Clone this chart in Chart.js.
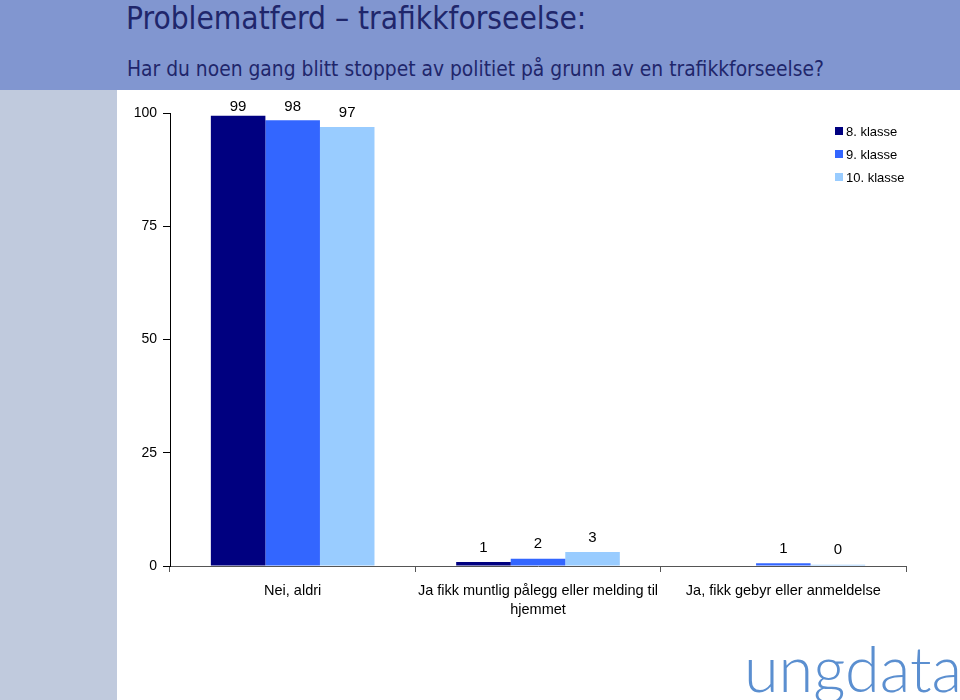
<!DOCTYPE html>
<html>

<head>
    <meta charset="utf-8">
    <title>Problematferd – trafikkforseelse</title>
    <script src="https://cdn.jsdelivr.net/npm/chart.js@4.4.1/dist/chart.umd.min.js"></script>
    <style>
        body { margin: 0; width: 960px; height: 700px; position: relative; overflow: hidden; background: #fff; }
        #header { position: absolute; left: 0; top: 0; width: 960px; height: 90px; background: #8196d0; }
        #side { position: absolute; left: 0; top: 90px; width: 117px; height: 610px; background: #c0cadd; }
        #title { position: absolute; left: 126px; top: -2px; line-height: 40px; font-family: "DejaVu Sans Condensed", "DejaVu Sans"; font-size: 31.4px; color: #1f266b; white-space: nowrap; }
        #sub { position: absolute; left: 127px; top: 56px; line-height: 26px; font-family: "DejaVu Sans Condensed", "DejaVu Sans"; font-size: 20.8px; color: #1f266b; white-space: nowrap; }
        #logo { position: absolute; left: 744px; top: 636px; line-height: 64px; font-family: Lato, "Open Sans"; font-weight: 300; font-size: 63px; color: #5b8fd0; letter-spacing: 0px; }
        #wrap { position: absolute; left: 117px; top: 90px; width: 843px; height: 610px; }
    </style>
</head>

<body>
    <div id="header"></div>
    <div id="side"></div>
    <div id="title">Problematferd – trafikkforseelse:</div>
    <div id="sub">Har du noen gang blitt stoppet av politiet på grunn av en trafikkforseelse?</div>
    <div id="logo">ungdata</div>
    <div id="wrap"><canvas id="myChart" width="843" height="610"></canvas></div>
    <script>
        const categories = ['Nei, aldri', ['Ja fikk muntlig pålegg eller melding til', 'hjemmet'], 'Ja, fikk gebyr eller anmeldelse'];
        const seriesNames = ['8. klasse', '9. klasse', '10. klasse'];
        const klasse8 = [99.4, 0.9, null];
        const klasse9 = [98.4, 1.6, 0.6];
        const klasse10 = [96.9, 3.1, 0.3];
        const colors = ['#000080', '#3366ff', '#99ccff'];
        const yTicks = [0, 25, 50, 75, 100];

        const font = 'Arial, "Liberation Sans"';

        // value labels over the bars
        const barLabels = {
            id: 'barLabels',
            afterDatasetsDraw(chart) {
                const ctx = chart.ctx;
                ctx.save();
                ctx.font = '15px ' + font;
                ctx.fillStyle = '#000';
                ctx.textAlign = 'center';
                ctx.textBaseline = 'bottom';
                chart.data.datasets.forEach((ds, i) => {
                    chart.getDatasetMeta(i).data.forEach((bar, j) => {
                        const v = ds.data[j];
                        if (v === null) return;
                        const y = Math.max(bar.y - 7, chart.chartArea.top + 1);
                        ctx.fillText(Math.round(v), bar.x, y);
                    });
                });
                ctx.restore();
            }
        };

        // legend inside the plot, top right
        const boxLegend = {
            id: 'boxLegend',
            afterDraw(chart) {
                const ctx = chart.ctx;
                ctx.save();
                ctx.font = '13px ' + font;
                ctx.textBaseline = 'middle';
                seriesNames.forEach((name, i) => {
                    const y = 41 + i * 23;
                    ctx.fillStyle = colors[i];
                    ctx.fillRect(718, y - 4, 8, 8);
                    ctx.fillStyle = '#000';
                    ctx.fillText(name, 729, y + 1);
                });
                ctx.restore();
            }
        };

        const ctx = document.getElementById('myChart').getContext('2d');
        const myChart = new Chart(ctx, {
            type: 'bar',
            data: {
                labels: categories,
                datasets: [klasse8, klasse9, klasse10].map((d, i) => ({
                    label: seriesNames[i],
                    data: d,
                    backgroundColor: colors[i],
                    barPercentage: 1,
                    categoryPercentage: 0.667
                }))
            },
            options: {
                responsive: false,
                animation: false,
                layout: { padding: { top: 23, right: 54, left: 0, bottom: 0 } },
                plugins: { legend: { display: false }, tooltip: { enabled: false } },
                scales: {
                    x: {
                        grid: { drawOnChartArea: false, offset: true, tickLength: 6, color: '#555' },
                        border: { color: '#555' },
                        ticks: { color: '#000', font: { family: font, size: 14.5, lineHeight: 1.3 }, padding: 10, maxRotation: 0, autoSkip: false },
                        afterFit(scale) { scale.height = 134; }
                    },
                    y: {
                        min: 0,
                        max: 100,
                        afterBuildTicks(scale) { scale.ticks = yTicks.map(v => ({ value: v })); },
                        grid: { drawOnChartArea: false, tickLength: 7, color: '#000' },
                        border: { color: '#000' },
                        ticks: { color: '#000', font: { family: font, size: 14 }, padding: 6 },
                        afterFit(scale) { scale.width = 53; }
                    }
                }
            },
            plugins: [barLabels, boxLegend]
        });
    </script>
</body>

</html>
